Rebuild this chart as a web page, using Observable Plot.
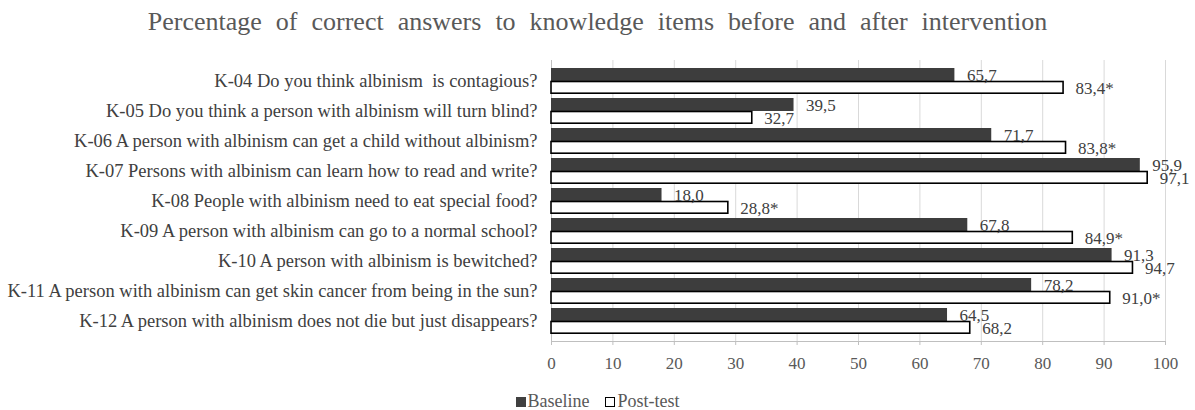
<!DOCTYPE html>
<html>
<head>
<meta charset="utf-8">
<script src="https://cdn.jsdelivr.net/npm/d3@7"></script>
<script src="https://cdn.jsdelivr.net/npm/@observablehq/plot@0.6"></script>
<style>
  html, body { margin: 0; padding: 0; background: #fff; overflow: hidden; }
  body { width: 1195px; height: 410px; font-family: "Liberation Serif", "Times New Roman", serif; }
  #title { height: 48px; line-height: 44px; text-align: center; font-size: 26px; word-spacing: 7.5px; color: #595959; }
  #legend { padding-top: 8px; line-height: 26px; text-align: center; font-size: 18px; color: #595959; }
  .sw { display: inline-block; width: 10px; height: 10px; margin-right: 2px; vertical-align: 0px; box-sizing: border-box; }
  .item { margin: 0 8px; }
</style>
</head>
<body>
<div id="title">Percentage of correct answers to knowledge items before and after intervention</div>
<div id="chart"></div>
<div id="legend"><span class="item"><span class="sw" style="background:#404040"></span>Baseline</span><span class="item"><span class="sw" style="background:#fff;border:1.5px solid #000"></span>Post-test</span></div>
<script>
const categories = [
  "K-04 Do you think albinism  is contagious?",
  "K-05 Do you think a person with albinism will turn blind?",
  "K-06 A person with albinism can get a child without albinism?",
  "K-07 Persons with albinism can learn how to read and write?",
  "K-08 People with albinism need to eat special food?",
  "K-09 A person with albinism can go to a normal school?",
  "K-10 A person with albinism is bewitched?",
  "K-11 A person with albinism can get skin cancer from being in the sun?",
  "K-12 A person with albinism does not die but just disappears?"
];
const baseline = [65.7, 39.5, 71.7, 95.9, 18.0, 67.8, 91.3, 78.2, 64.5];
const postTest = [83.4, 32.7, 83.8, 97.1, 28.8, 84.9, 94.7, 91.0, 68.2];
const significant = [true, false, true, false, true, true, false, true, false];
const xTicks = [0, 10, 20, 30, 40, 50, 60, 70, 80, 90, 100];

const data = categories.map((c, i) => ({
  cat: c, baseline: baseline[i], post: postTest[i], sig: significant[i]
}));
const fmt = v => v.toFixed(1).replace(".", ",");
const serif = "'Liberation Serif', 'Times New Roman', serif";

const chart = Plot.plot({
  width: 1195,
  height: 332,
  marginLeft: 551,
  marginRight: 30,
  marginTop: 12,
  marginBottom: 39,
  style: { fontSize: "16px", color: "#595959", background: "white" },
  x: { domain: [0, 100], label: null },
  y: { domain: categories, padding: 0.15, label: null },
  marks: [
    Plot.gridX(xTicks, { stroke: "#d9d9d9", strokeOpacity: 1 }),
    Plot.ruleX([0], { stroke: "#bfbfbf" }),
    Plot.frame({ anchor: "bottom", stroke: "#bfbfbf" }),
    Plot.axisX({ ticks: xTicks, tickSize: 4, tickPadding: 11, stroke: "#bfbfbf", fill: "#595959", fontSize: 17, label: null }),
    Plot.axisY({ tickSize: 0, tickPadding: 14, fill: "#404040", fontSize: 18.5, label: null }),
    Plot.barX(data, { y: "cat", x: "baseline", fill: "#3d3d3d", insetBottom: 13 }),
    Plot.barX(data, { y: "cat", x: "post", fill: "white", stroke: "black", strokeWidth: 1.6, insetTop: 13.5, insetBottom: 0.8 }),
    Plot.text(data, { y: "cat", x: "baseline", text: d => fmt(d.baseline), textAnchor: "start", dx: 12, dy: -5.5, fill: "#404040", fontSize: 17 }),
    Plot.text(data, { y: "cat", x: "post", text: d => fmt(d.post) + (d.sig ? "*" : ""), textAnchor: "start", dx: 12, dy: 7.5, fill: "#404040", fontSize: 17 })
  ]
});
chart.style.setProperty("font-family", serif, "important");
chart.querySelectorAll("g, text, tspan").forEach(el => {
  el.removeAttribute("font-family");
  el.style.setProperty("font-family", serif, "important");
});
document.getElementById("chart").appendChild(chart);
</script>
</body>
</html>
